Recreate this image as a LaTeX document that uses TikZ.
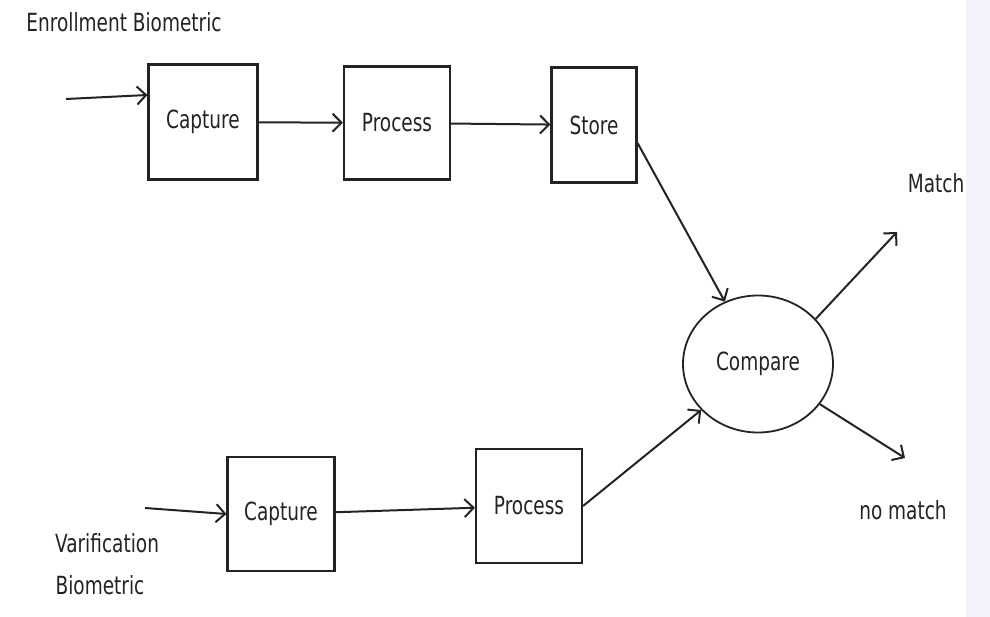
\documentclass[tikz,border=0pt]{standalone}
\usepackage{fontspec}
\setmainfont{DejaVu Sans}[FakeStretch=0.74]
\usetikzlibrary{arrows.meta,shapes.geometric}
\definecolor{ink}{RGB}{35,35,35}
\definecolor{edge}{RGB}{242,243,251}
\begin{document}
\begin{tikzpicture}[x=1pt, y=-1pt, font=\fontsize{25}{27}\selectfont, text=ink,
	blk/.style={draw=ink, line width=2.1pt, inner sep=0pt},
	arw/.style={draw=ink, line width=2pt, -{Straight Barb[length=9pt,width=18pt,line width=2pt]}}]
	\useasboundingbox (0, 0) rectangle (990, 617);
	\fill[edge] (966, 0) rectangle (990, 617);

		\node at(124, 22)(enrl){Enrollment Biometric};
		\coordinate(inA) at(66, 99);
		\node[blk, minimum width=109, minimum height=115] at(203, 122)(capA){Capture};
		\node[blk, minimum width=106, minimum height=113] at(397, 123)(procA){Process};
		\node[blk, minimum width=85, minimum height=115] at(594, 125)(store){Store};

			\draw[arw](inA) to ([yshift=27pt]capA.west);
			\draw[arw](capA) to (procA);
			\draw[arw](procA) to (store);

		%%%%%%%%%%%%%%%%%%%%%%%%%%%%
		\node[draw=ink, line width=1.8pt, ellipse, minimum width=150, minimum height=137, inner sep=0pt] at(758, 364)(cmp){Compare};
		\node at(936, 183)(mtch){Match};
		\node at(903, 510)(nomt){no match};
		\coordinate(outA) at(897, 232);
		\coordinate(outB) at(905, 458);

			\draw[arw]([yshift=-18pt]store.east) to (cmp.118);
			\draw[arw](cmp.38) to (outA);
			\draw[arw](cmp.-33) to (outB);

		%%%%%%%%%%%%%%%%%%%%%%%%%%%%
		\node at(107, 543)(vrf){Varification};
		\node at(100, 585)(vbio){Biometric};
		\coordinate(inB) at(145, 508);
		\node[blk, minimum width=107, minimum height=114] at(281, 514)(capB){Capture};
		\node[blk, minimum width=106, minimum height=114] at(529, 506)(procB){Process};

			\draw[arw](inB) to (capB.west);
			\draw[arw](capB) to (procB);
			\draw[arw](procB.east) to (cmp.219);
\end{tikzpicture}
\end{document}
